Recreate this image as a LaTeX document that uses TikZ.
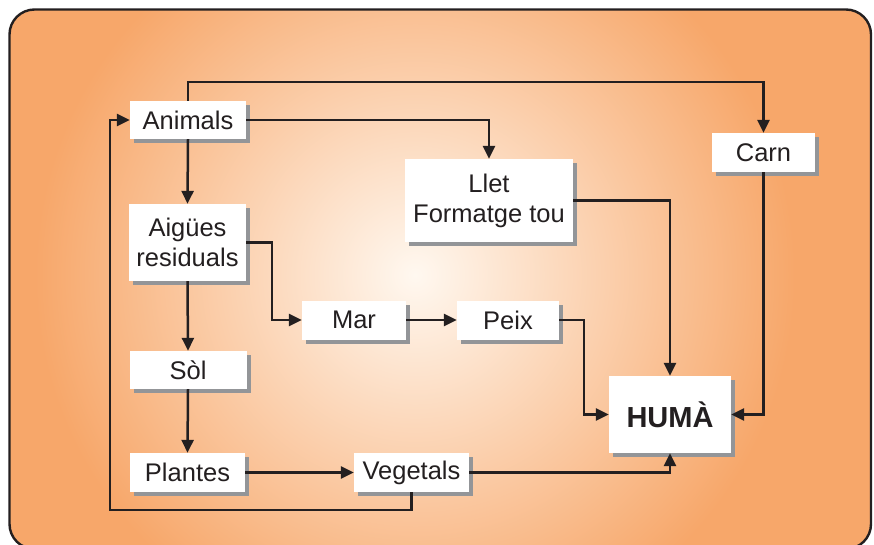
\documentclass[tikz,border=0pt]{standalone}
\usepackage{fontspec}
\setmainfont{Liberation Sans}
\usetikzlibrary{arrows.meta,shadows}
\definecolor{ink}{HTML}{231F20}
\definecolor{orng}{HTML}{F7A76A}
\definecolor{cream}{HTML}{FFF8F0}
\definecolor{shgray}{HTML}{939598}
\begin{document}
\begin{tikzpicture}[x=1pt,y=-1pt,
  box/.style={fill=white,inner sep=0pt,align=center,text=ink,
    font=\fontsize{25.5}{30}\selectfont,
    drop shadow={shadow xshift=4pt,shadow yshift=-4pt,fill=shgray,opacity=1}},
  arr/.style={draw=ink,line width=2.5pt,-{Triangle[length=13pt,width=12pt]}},
  ln/.style={draw=ink,line width=2.5pt}]
\useasboundingbox (0,0) rectangle (874,544);
% background panel
\path[fill=orng,rounded corners=25pt] (9.5,9.5) rectangle (871,549);
\begin{scope}
  \clip[rounded corners=25pt] (9.5,9.5) rectangle (871,549);
  \shade[inner color=cream,outer color=orng] (415,275) circle (380);
\end{scope}
\draw[ink,line width=2.4pt,rounded corners=25pt] (9.5,9.5) rectangle (871,549);

% nodes
\node[box,minimum width=116pt,minimum height=38pt] (animals) at (188,120) {Animals};
\node[box,minimum width=117pt,minimum height=77pt] (aigues) at (187.5,242.5) {Aigües\\residuals};
\node[box,minimum width=168pt,minimum height=83pt] (llet) at (489,200.5) {Llet\\Formatge tou};
\node[box,minimum width=103pt,minimum height=39pt] (carn) at (763.5,152.5) {Carn};
\node[box,minimum width=104pt,minimum height=39pt] (mar) at (354,320) {Mar};
\node[box,minimum width=102pt,minimum height=39pt] (peix) at (508,320) {Peix};
\node[box,minimum width=117pt,minimum height=38pt] (sol) at (188,370) {Sòl};
\node[box,minimum width=115pt,minimum height=39pt] (plantes) at (187.5,472.5) {Plantes};
\node[box,minimum width=115pt,minimum height=39pt] (vegetals) at (411.5,472.5) {Vegetals};
\node[box,minimum width=122pt,minimum height=77pt,font=\fontsize{29}{34}\selectfont\bfseries] (huma) at (670,414.5) {HUMÀ};

\coordinate (top) at (0,82);
\coordinate (lp) at (110,510);

% connectors
\draw[arr] (animals.north) -- (animals.north |- top) -| (carn.north);
\draw[arr] (animals.east) -| (llet.north);
\draw[arr] (animals.south) -- (aigues.north);
\draw[arr] (aigues.east) -- ++(26,0) |- (mar.west);
\draw[arr] (aigues.south) -- (sol.north);
\draw[arr] (sol.south) -- (plantes.north);
\draw[arr] (plantes.east) -- (vegetals.west);
\draw[arr] (mar.east) -- (peix.west);
\draw[arr] (vegetals.south) |- (lp) |- (animals.west);
\draw[arr] (vegetals.east) -| (huma.south);
\draw[arr] (llet.east) -| (huma.north);
\draw[arr] (peix.east) -- ++(25,0) |- (huma.west);
\draw[arr] (carn.south) |- (huma.east);
\end{tikzpicture}
\end{document}
